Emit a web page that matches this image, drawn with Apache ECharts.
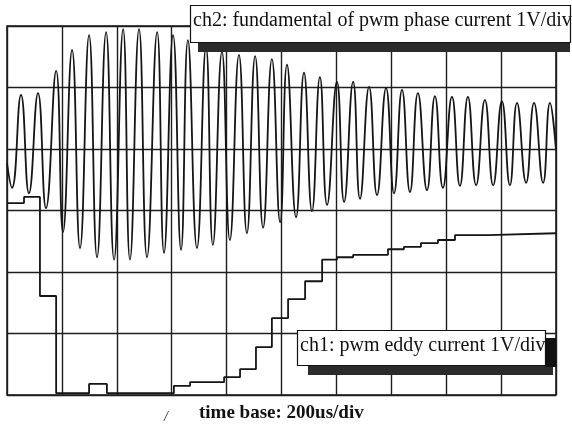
<!DOCTYPE html>
<html>
<head>
<meta charset="utf-8">
<script src="https://cdn.jsdelivr.net/npm/echarts@6/dist/echarts.min.js"></script>
<style>
html,body{margin:0;padding:0;background:#fff;}
#c{width:572px;height:435px;}
</style>
</head>
<body>
<div id="c"></div>
<script>
// time in microseconds (200us/div, 10 div), amplitude in volts (1V/div, 6 div)
var ch2Time = [0,18,51,80,113,142,179,204,237,266,299,328,361,390,423,448,481,510,547,572,605,634,659,692,725,750,783,812,845,874,904,933,965,995,1020,1053,1082,1111,1140,1166,1202,1228,1261,1286,1319,1348,1381,1410,1439,1468,1497,1530,1559,1588,1621,1650,1679,1709,1741,1771,1803,1832,1858,1891,1920,1953,1978,2000];
var ch2Volts = [0.77,0.37,1.88,0.28,1.91,0.04,2.27,-0.35,2.61,-0.61,2.85,-0.76,2.90,-0.80,2.95,-0.80,2.95,-0.76,2.90,-0.69,2.85,-0.64,2.77,-0.61,2.66,-0.56,2.58,-0.48,2.53,-0.37,2.51,-0.28,2.46,-0.19,2.37,-0.11,2.24,-0.01,2.17,0.09,2.09,0.14,2.09,0.19,2.01,0.25,1.99,0.28,1.96,0.30,1.91,0.33,1.86,0.37,1.85,0.40,1.85,0.41,1.80,0.41,1.78,0.41,1.75,0.45,1.75,0.45,1.75,0.98];
var ch1Time = [0,62,120,179,299,364,608,667,791,849,907,965,1024,1086,1148,1202,1261,1388,1446,1508,1570,1632,1752,2000];
var ch1Volts = [0.12,0.22,-1.39,-2.97,-2.82,-2.97,-2.85,-2.79,-2.71,-2.58,-2.22,-1.75,-1.44,-1.15,-0.80,-0.76,-0.72,-0.63,-0.59,-0.53,-0.48,-0.40,-0.37,-0.37];
var ch2Label = 'ch2: fundamental of pwm phase current 1V/div';
var ch1Label = 'ch1: pwm eddy current 1V/div';
var timeBaseLabel = 'time base: 200us/div';

function pairs(xs, ys){ return xs.map(function(x,i){ return [x, ys[i]]; }); }

var chart = echarts.init(document.getElementById('c'), null, {renderer:'canvas'});
var serif = '"Liberation Serif", "DejaVu Serif", serif';
chart.setOption({
  animation: false,
  backgroundColor: '#ffffff',
  grid: {left: 7, top: 26, width: 549, height: 369, show: true, borderColor: '#111', borderWidth: 1.5, backgroundColor: 'transparent'},
  xAxis: {type: 'value', min: 0, max: 2000, interval: 200,
    axisLine: {show: false}, axisTick: {show: false}, axisLabel: {show: false},
    splitLine: {show: true, lineStyle: {color: '#1e1e1e', width: 1.4}}},
  yAxis: {type: 'value', min: -3, max: 3, interval: 1,
    axisLine: {show: false}, axisTick: {show: false}, axisLabel: {show: false},
    splitLine: {show: true, lineStyle: {color: '#1e1e1e', width: 1.4}}},
  title: {text: timeBaseLabel, left: 199, top: 404, padding: 0,
    textStyle: {fontFamily: serif, fontWeight: 'bold', fontSize: 19, color: '#111'}},
  series: [
    {name: 'ch2', type: 'line', data: pairs(ch2Time, ch2Volts), smooth: 0.5, showSymbol: false,
      lineStyle: {color: '#151515', width: 1.8}},
    {name: 'ch1', type: 'line', data: pairs(ch1Time, ch1Volts), step: 'end', showSymbol: false,
      lineStyle: {color: '#151515', width: 1.8}}
  ],
  graphic: [
    {type: 'rect', z: 100, shape: {x: 198, y: 43, width: 372, height: 9}, style: {fill: '#2b2b2b'}},
    {type: 'rect', z: 101, shape: {x: 190.5, y: 5.5, width: 380, height: 37}, style: {fill: '#fff', stroke: '#111', lineWidth: 1.2}},
    {type: 'text', z: 102, left: 193, top: 11, style: {text: ch2Label, font: '20px ' + serif, fill: '#111'}},
    {type: 'rect', z: 100, shape: {x: 308, y: 366, width: 245, height: 9}, style: {fill: '#2b2b2b'}},
    {type: 'rect', z: 100, shape: {x: 545, y: 338, width: 11, height: 29}, style: {fill: '#111'}},
    {type: 'rect', z: 101, shape: {x: 297.5, y: 330.5, width: 248, height: 35}, style: {fill: '#fff', stroke: '#111', lineWidth: 1.2}},
    {type: 'text', z: 102, left: 300, top: 336, style: {text: ch1Label, font: '20px ' + serif, fill: '#111'}},
    {type: 'text', z: 102, left: 164, top: 410, style: {text: '/', font: 'italic 14px ' + serif, fill: '#222'}}
  ]
});
</script>
</body>
</html>
